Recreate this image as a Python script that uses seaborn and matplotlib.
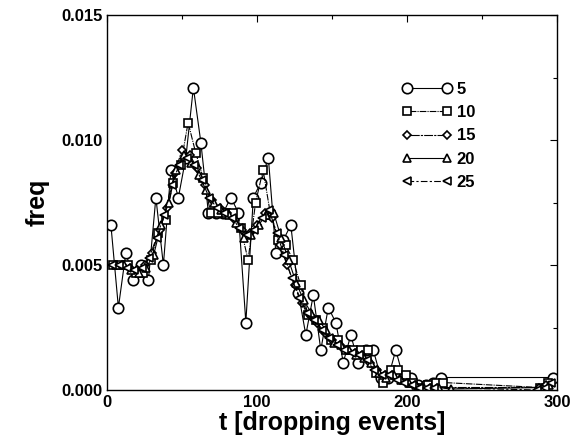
import numpy as np
import pandas as pd
import matplotlib
matplotlib.use("Agg")
import matplotlib.pyplot as plt
import seaborn as sns
from matplotlib.ticker import MultipleLocator

# ---- data ----
t5 = [2.5, 7.5, 12.5, 17.5, 22.5, 27.5, 32.5, 37.5, 42.5, 47.5, 52.5, 57.5, 62.5, 67.5,
      72.5, 77.5, 82.5, 87.5, 92.5, 97.5, 102.5, 107.5, 112.5, 117.5, 122.5, 127.5, 132.5,
      137.5, 142.5, 147.5, 152.5, 157.5, 162.5, 167.5, 172.5, 177.5, 182.5, 187.5, 192.5,
      197.5, 202.5, 207.5, 212.5, 217.5, 222.5, 297.5]
v5 = [0.0066, 0.0033, 0.0055, 0.0044, 0.0050, 0.0044, 0.0077, 0.0050, 0.0088, 0.0077,
      0.0093, 0.0121, 0.0099, 0.0071, 0.0071, 0.0071, 0.0077, 0.0071, 0.0027, 0.0077,
      0.0083, 0.0093, 0.0055, 0.0060, 0.0066, 0.0039, 0.0022, 0.0038, 0.0016, 0.0033,
      0.0027, 0.0011, 0.0022, 0.0011, 0.0016, 0.0016, 0.0005, 0.0005, 0.0016, 0.0005,
      0.0005, 0.0002, 0.0002, 0.0003, 0.0005, 0.0005]

t10 = [4, 9, 14, 19, 24, 29, 34, 39, 44, 49, 54, 59, 64, 69, 74, 79, 84, 89, 94, 99, 104,
       109, 114, 119, 124, 129, 134, 139, 144, 149, 154, 159, 164, 169, 174, 179, 184, 189,
       194, 199, 204, 209, 214, 219, 224, 289, 294]
v10 = [0.0050, 0.0050, 0.0050, 0.0047, 0.0047, 0.0052, 0.0063, 0.0068, 0.0083, 0.0090,
       0.0107, 0.0095, 0.0085, 0.0071, 0.0071, 0.0071, 0.0071, 0.0065, 0.0052, 0.0075,
       0.0088, 0.0070, 0.0060, 0.0058, 0.0052, 0.0042, 0.0030, 0.0028, 0.0025, 0.0020,
       0.0020, 0.0016, 0.0016, 0.0016, 0.0016, 0.0007, 0.0003, 0.0008, 0.0008, 0.0006,
       0.0003, 0.0001, 0.0002, 0.0003, 0.0003, 0.0001, 0.0003]

t15 = [5, 10, 15, 20, 25, 30, 35, 40, 45, 50, 55, 60, 65, 70, 75, 80, 85, 90, 95, 100,
       105, 110, 115, 120, 125, 130, 135, 140, 145, 150, 155, 160, 165, 170, 175, 180,
       185, 190, 195, 200, 205, 210, 215, 220, 288, 293]
v15 = [0.0050, 0.0050, 0.0049, 0.0048, 0.0050, 0.0055, 0.0064, 0.0073, 0.0087, 0.0096,
       0.0094, 0.0089, 0.0082, 0.0076, 0.0073, 0.0071, 0.0068, 0.0064, 0.0063, 0.0066,
       0.0071, 0.0069, 0.0058, 0.0050, 0.0042, 0.0035, 0.0030, 0.0027, 0.0023, 0.0020,
       0.0018, 0.0016, 0.0015, 0.0014, 0.0011, 0.0008, 0.0006, 0.0006, 0.0004, 0.0003,
       0.0002, 0.0001, 0.0001, 0.0001, 0.0001, 0.0002]

t20 = [6, 11, 16, 21, 26, 31, 36, 41, 46, 51, 56, 61, 66, 71, 76, 81, 86, 91, 96, 101,
       106, 111, 116, 121, 126, 131, 136, 141, 146, 151, 156, 161, 166, 171, 176, 181,
       186, 191, 196, 201, 206, 211, 216, 221, 229, 290, 295]
v20 = [0.0050, 0.0050, 0.0048, 0.0047, 0.0049, 0.0054, 0.0066, 0.0075, 0.0088, 0.0094,
       0.0091, 0.0086, 0.0080, 0.0075, 0.0072, 0.0070, 0.0067, 0.0061, 0.0062, 0.0066,
       0.0070, 0.0071, 0.0061, 0.0052, 0.0043, 0.0036, 0.0031, 0.0028, 0.0024, 0.0019,
       0.0018, 0.0016, 0.0014, 0.0013, 0.0011, 0.0007, 0.0005, 0.0006, 0.0004, 0.0003,
       0.0002, 0.0001, 0.0001, 0.0001, 0.00004, 0.0001, 0.0002]

t25 = [3, 8, 13, 18, 23, 28, 33, 38, 43, 48, 53, 58, 63, 68, 73, 78, 83, 88, 93, 98,
       103, 108, 113, 118, 123, 128, 133, 138, 143, 148, 153, 158, 163, 168, 173, 178,
       183, 188, 193, 198, 203, 208, 213, 218, 287, 292, 296]
v25 = [0.0050, 0.0050, 0.0049, 0.0048, 0.0049, 0.0053, 0.0061, 0.0070, 0.0082, 0.0090,
       0.0093, 0.0090, 0.0084, 0.0077, 0.0073, 0.0071, 0.0069, 0.0065, 0.0062, 0.0064,
       0.0069, 0.0072, 0.0063, 0.0054, 0.0045, 0.0037, 0.0031, 0.0028, 0.0024, 0.0021,
       0.0018, 0.0016, 0.0015, 0.0014, 0.0012, 0.0008, 0.0006, 0.0006, 0.0004, 0.0003,
       0.0002, 0.0001, 0.0001, 0.0001, 0.0000, 0.0001, 0.0003]

series_labels = ["5", "10", "15", "20", "25"]
series_t = [t5, t10, t15, t20, t25]
series_v = [v5, v10, v15, v20, v25]

# ---- styling ----
sns.set_theme(style="white")
plt.rcParams["font.family"] = ["Liberation Sans", "DejaVu Sans"]
plt.rcParams["font.weight"] = "bold"
plt.rcParams["text.color"] = "black"
plt.rcParams["axes.labelcolor"] = "black"
plt.rcParams["xtick.color"] = "black"
plt.rcParams["ytick.color"] = "black"

markers = ["o", "s", "D", "^", "<"]
msizes = [7.5, 5.5, 4.5, 6, 6]
lstyles = ["-", (0, (1, 1, 6, 1)), (0, (2, 1, 8, 1)), "-", (0, (6, 2, 2, 2))]

fig = plt.figure(figsize=(5.73, 4.44), dpi=100)
ax = fig.add_axes([0.187, 0.1216, 0.785, 0.8446])

for lab, tt, vv, mk, ms, ls in zip(series_labels, series_t, series_v, markers, msizes, lstyles):
    df = pd.DataFrame({"t": tt, "freq": vv})
    sns.lineplot(data=df, x="t", y="freq", ax=ax, label=lab, color="black",
                 linewidth=0.8, linestyle=ls, marker=mk, markersize=ms,
                 markerfacecolor="white", markeredgecolor="black",
                 markeredgewidth=1.2, sort=False)

ax.set_xlim(0, 300)
ax.set_ylim(0, 0.015)
ax.xaxis.set_major_locator(MultipleLocator(100))
ax.xaxis.set_minor_locator(MultipleLocator(50))
ax.yaxis.set_major_locator(MultipleLocator(0.005))
ax.yaxis.set_minor_locator(MultipleLocator(0.0025))
ax.yaxis.set_major_formatter(matplotlib.ticker.FormatStrFormatter("%.3f"))
ax.tick_params(which="both", direction="in", top=True, right=True, colors="black",
               labelcolor="black", labelsize=12, width=0.8)
ax.tick_params(which="major", length=5)
ax.tick_params(which="minor", length=3)
for lbl in ax.get_xticklabels() + ax.get_yticklabels():
    lbl.set_fontweight("bold")
for sp in ax.spines.values():
    sp.set_color("black")
    sp.set_linewidth(1.0)

ax.set_xlabel("t [dropping events]", fontsize=18, fontweight="bold", labelpad=1,
              color="black")
ax.set_ylabel("freq", fontsize=18, fontweight="bold", labelpad=8, color="black")

leg = ax.legend(loc="upper left", bbox_to_anchor=(0.64, 0.84), frameon=False,
                fontsize=12, numpoints=2, handlelength=3.0, labelspacing=0.5,
                handletextpad=0.3, borderaxespad=0)
for txt in leg.get_texts():
    txt.set_fontweight("bold")
    txt.set_color("black")

fig.savefig("out.png", dpi=100, facecolor="white")
